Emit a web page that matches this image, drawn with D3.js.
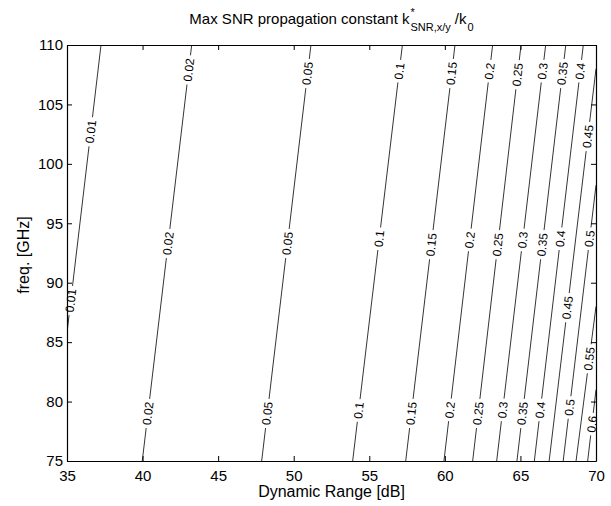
<!DOCTYPE html>
<html><head><meta charset="utf-8">
<script src="https://cdn.jsdelivr.net/npm/d3@7"></script>
<style>
body{margin:0;background:#fff}
svg text{font-family:"Liberation Sans",Arial,Helvetica,sans-serif;fill:#000}
</style>
</head><body>
<svg id="c" width="611" height="506"></svg>
<script>
// ---- data ----
const xTicks = [35,40,45,50,55,60,65,70];
const yTicks = [75,80,85,90,95,100,105,110];
const levels = ["0.01","0.02","0.05","0.1","0.15","0.2","0.25","0.3","0.35","0.4","0.45","0.5","0.55","0.6"];
// contour polylines: [Dynamic Range dB, freq GHz]
const contourLines = [
  [[35,85.8],[37.25,110]],
  [[39.98,75],[43.25,110]],
  [[47.88,75],[51.14,110]],
  [[53.9,75],[57.19,110]],
  [[57.41,75],[60.67,110]],
  [[59.94,75],[63.16,110]],
  [[61.84,75],[65.04,110]],
  [[63.43,75],[66.67,110]],
  [[64.77,75],[68.0,110]],
  [[65.92,75],[69.16,110]],
  [[66.9,75],[70,108]],
  [[67.83,75],[70,98.2]],
  [[68.68,75],[70,88]],
  [[69.45,75],[70,81]]
];
// label positions along each contour (freq GHz)
const labelFreqs = [
  [88.5,102.7],
  [79.0,93.3,107.9],
  [79.0,93.3,107.6],
  [79.25,93.7,107.8],
  [79.0,93.2,107.6],
  [79.3,93.6,107.8],
  [79.0,93.2,107.5],
  [79.3,93.6,107.8],
  [79.0,93.2,107.6],
  [79.3,93.7,107.8],
  [87.9,102.3],
  [79.5,93.7],
  [83.6],
  [78.1]
];

// ---- layout ----
const L=67, R=596, T=45, B=461;
const svg = d3.select("#c");
const x = d3.scaleLinear().domain([35,70]).range([L,R]);
const y = d3.scaleLinear().domain([75,110]).range([B,T]);

svg.append("defs").append("clipPath").attr("id","clip")
  .append("rect").attr("x",L).attr("y",T).attr("width",R-L).attr("height",B-T);

const plot = svg.append("g");
const lineGen = d3.line();

levels.forEach((lv,i)=>{
  const P = contourLines[i].map(d=>[x(d[0]),y(d[1])]);
  const cum=[0];
  for(let k=1;k<P.length;k++){
    cum.push(cum[k-1]+Math.hypot(P[k][0]-P[k-1][0],P[k][1]-P[k-1][1]));
  }
  const total = cum[cum.length-1];
  function at(s){
    let k=0;
    while(k<P.length-2 && s>cum[k+1]) k++;
    const seg = cum[k+1]-cum[k];
    const t = (s-cum[k])/seg;
    const dx=P[k+1][0]-P[k][0], dy=P[k+1][1]-P[k][1];
    return {x:P[k][0]+t*dx, y:P[k][1]+t*dy, ang:Math.atan2(dy,dx)*180/Math.PI};
  }
  function sAtY(py){
    for(let k=0;k<P.length-1;k++){
      const y0=P[k][1], y1=P[k+1][1];
      if((py-y0)*(py-y1)<=0){
        const t=(py-y0)/(y1-y0);
        return cum[k]+t*(cum[k+1]-cum[k]);
      }
    }
    return 0;
  }
  const gaps=[];
  labelFreqs[i].forEach(g=>{
    const s = sAtY(y(g));
    const p = at(s);
    const t = plot.append("text")
      .attr("transform",`translate(${p.x},${p.y}) rotate(${p.ang})`)
      .attr("text-anchor","middle")
      .attr("dy","0.35em")
      .attr("font-size",12)
      .text(lv);
    const w = t.node().getComputedTextLength();
    gaps.push([s-w/2-3, s+w/2+3]);
  });
  gaps.sort((a,b)=>a[0]-b[0]);
  const intervals=[]; let cur=0;
  gaps.forEach(g=>{ if(g[0]>cur) intervals.push([cur,g[0]]); cur=Math.max(cur,g[1]); });
  if(cur<total) intervals.push([cur,total]);
  intervals.forEach(([a,b])=>{
    const pts=[at(a)];
    for(let k=1;k<P.length-1;k++) if(cum[k]>a && cum[k]<b) pts.push({x:P[k][0],y:P[k][1]});
    pts.push(at(b));
    plot.append("path")
      .attr("d", lineGen(pts.map(p=>[p.x,p.y])))
      .attr("fill","none").attr("stroke","#000").attr("stroke-width",0.8)
      .attr("clip-path","url(#clip)");
  });
});

// ---- axes ----
function styleAxis(g){
  g.attr("font-family",null).attr("font-size",null);
  g.selectAll("path.domain").attr("stroke","#000").attr("stroke-width",1.2);
  g.selectAll(".tick line").attr("stroke","#000").attr("stroke-width",1);
  g.selectAll(".tick text").attr("font-size",15);
}
svg.append("g").attr("transform",`translate(0,${B})`)
  .call(d3.axisBottom(x).tickValues(xTicks).tickSizeInner(-5).tickSizeOuter(0).tickPadding(9).tickFormat(d3.format("d")))
  .call(styleAxis);
svg.append("g").attr("transform",`translate(0,${T})`)
  .call(d3.axisTop(x).tickValues(xTicks).tickSizeInner(-5).tickSizeOuter(0).tickFormat(""))
  .call(styleAxis);
svg.append("g").attr("transform",`translate(${L},0)`)
  .call(d3.axisLeft(y).tickValues(yTicks).tickSizeInner(-5).tickSizeOuter(0).tickPadding(4).tickFormat(d3.format("d")))
  .call(styleAxis);
svg.append("g").attr("transform",`translate(${R},0)`)
  .call(d3.axisRight(y).tickValues(yTicks).tickSizeInner(-5).tickSizeOuter(0).tickFormat(""))
  .call(styleAxis);

// ---- labels ----
svg.append("text").attr("x",(L+R)/2).attr("y",497).attr("text-anchor","middle")
  .attr("font-size",16).text("Dynamic Range [dB]");
svg.append("text").attr("transform",`translate(29,${(T+B)/2+2}) rotate(-90)`).attr("text-anchor","middle")
  .attr("font-size",16).text("freq. [GHz]");

// title with super/subscripts
const title = svg.append("g");
const t1 = title.append("text").attr("x",0).attr("y",24).attr("font-size",15).text("Max SNR propagation constant k");
const e1 = t1.node().getComputedTextLength();
title.append("text").attr("x",e1+1).attr("y",16).attr("font-size",11).text("*");
const t3 = title.append("text").attr("x",e1+1).attr("y",31).attr("font-size",11).text("SNR,x/y");
const e3 = e1+1+t3.node().getComputedTextLength()+4;
const t4 = title.append("text").attr("x",e3).attr("y",24).attr("font-size",15).text("/k");
const e4 = e3+t4.node().getComputedTextLength()+1;
const t5 = title.append("text").attr("x",e4).attr("y",31).attr("font-size",11).text("0");
const e5 = e4+t5.node().getComputedTextLength();
title.attr("transform",`translate(${(L+R)/2 - e5/2},0)`);
</script>
</body></html>
